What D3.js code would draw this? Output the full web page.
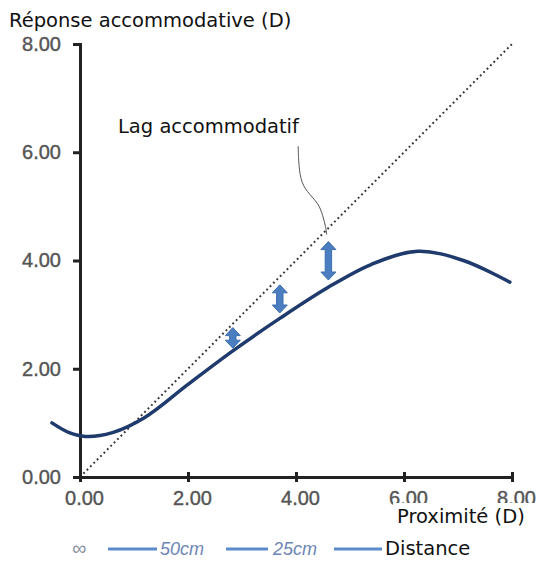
<!DOCTYPE html>
<html>
<head>
<meta charset="utf-8">
<script src="https://cdn.jsdelivr.net/npm/d3@7"></script>
<style>
  body { margin: 0; background: #fff; }
  svg { display: block; }
</style>
</head>
<body>
<div id="chart"></div>
<script>
// values
const ticks = [0, 2, 4, 6, 8];
const tickLabels = ["0.00", "2.00", "4.00", "6.00", "8.00"];

const curveX = [-0.52, -0.2, 0.1, 0.6, 1.2, 2.0, 2.83, 3.7, 4.59, 5.4, 6.26, 7.1, 7.96];
const curveY = [1.0, 0.82, 0.75, 0.82, 1.1, 1.71, 2.33, 2.93, 3.5, 3.93, 4.17, 4.0, 3.6];

const arrowX = [2.83, 3.7, 4.6];
const arrowTop = [2.76, 3.55, 4.35];
const arrowBottom = [2.38, 3.03, 3.64];

const leaderX = [4.04, 4.05, 4.1, 4.25, 4.42, 4.5, 4.55, 4.57];
const leaderY = [6.11, 5.75, 5.42, 5.22, 5.05, 4.82, 4.62, 4.48];

const legendItems = ["\u221E", "50cm", "25cm"];

const width = 547, height = 569;
const svg = d3.select('#chart').append('svg')
    .attr('width', width)
    .attr('height', height);

const x = d3.scaleLinear().domain([0, 8]).range([80, 512]);
const y = d3.scaleLinear().domain([0, 8]).range([477, 44]);

const labelFont = 'DejaVu Sans';

// title
svg.append('text')
    .attr('x', 9).attr('y', 27)
    .style('font-family', labelFont)
    .style('font-size', '19.5px')
    .attr('fill', '#111')
    .text('Réponse accommodative (D)');

// diagonal (dotted)
svg.append('line')
    .attr('x1', x(0)).attr('y1', y(0))
    .attr('x2', x(8)).attr('y2', y(8))
    .attr('stroke', '#333')
    .attr('stroke-width', 2)
    .attr('stroke-dasharray', '1.8,3');

// y axis
const yAxis = svg.append('g')
    .attr('transform', `translate(${x(0)},0)`)
    .call(d3.axisLeft(y).tickValues(ticks).tickFormat((d, i) => tickLabels[i]).tickSize(7).tickPadding(12));
// x axis
const xAxis = svg.append('g')
    .attr('transform', `translate(0,${y(0)})`)
    .call(d3.axisBottom(x).tickValues(ticks).tickFormat((d, i) => tickLabels[i]).tickSize(5).tickPadding(9));

[yAxis, xAxis].forEach(g => {
  g.select('.domain').attr('stroke', '#222').attr('stroke-width', 3);
  g.selectAll('.tick line').attr('stroke', '#222').attr('stroke-width', 3);
  g.selectAll('.tick text')
    .style('font-family', 'Liberation Sans')
    .style('font-size', '20px')
    .attr('fill', '#555')
    .attr('stroke', '#555')
    .attr('stroke-width', 0.4);
});
xAxis.selectAll('.tick line').attr('y1', -5);
xAxis.selectAll('.tick text').attr('dx', 4);

// curve
const pts = curveX.map((d, i) => [d, curveY[i]]);
svg.append('path')
    .datum(pts)
    .attr('fill', 'none')
    .attr('stroke', '#1f3a6c')
    .attr('stroke-width', 3.5)
    .attr('stroke-linecap', 'round')
    .attr('d', d3.line().x(d => x(d[0])).y(d => y(d[1])).curve(d3.curveCatmullRom.alpha(0.5)));

// double arrows
arrowX.forEach((ax, i) => {
  const cx = x(ax), t = y(arrowTop[i]), b = y(arrowBottom[i]);
  const hw = 7.5, sw = 3.2, hl = 8;
  const p = [
    [cx, t], [cx + hw, t + hl], [cx + sw, t + hl],
    [cx + sw, b - hl], [cx + hw, b - hl], [cx, b],
    [cx - hw, b - hl], [cx - sw, b - hl], [cx - sw, t + hl], [cx - hw, t + hl]
  ];
  svg.append('path')
    .attr('d', 'M' + p.map(q => q.join(',')).join('L') + 'Z')
    .attr('fill', '#4a7ec0')
    .attr('stroke', '#3c6eae')
    .attr('stroke-width', 1);
});

// annotation
svg.append('path')
    .datum(leaderX.map((d, i) => [d, leaderY[i]]))
    .attr('fill', 'none')
    .attr('stroke', '#555')
    .attr('stroke-width', 1)
    .attr('d', d3.line().x(d => x(d[0])).y(d => y(d[1])).curve(d3.curveBasis));

svg.append('text')
    .attr('x', 118).attr('y', 133)
    .style('font-family', labelFont)
    .style('font-size', '19.5px')
    .attr('fill', '#111')
    .text('Lag accommodatif');

// legend row along the bottom
const legend = svg.append('g').attr('transform', 'translate(0,549)');
const legendX = [72, 160, 273];
const lineX = [[108, 157], [226, 268], [334, 390]];
lineX.forEach(l => {
  legend.append('line')
    .attr('x1', l[0]).attr('x2', l[1])
    .attr('y1', 0).attr('y2', 0)
    .attr('stroke', '#5b8bcb').attr('stroke-width', 3);
});
legendItems.forEach((t, i) => {
  legend.append('text')
    .attr('x', legendX[i]).attr('y', 6)
    .style('font-family', 'Liberation Sans')
    .style('font-style', 'italic')
    .style('font-size', i === 0 ? '20px' : '18px')
    .attr('fill', i === 0 ? '#8a8fa0' : '#6d86b6')
    .text(t);
});

// white boxes with the axis captions
svg.append('rect').attr('x', 393).attr('y', 503).attr('width', 154).attr('height', 27).attr('fill', '#fff');
svg.append('text')
    .attr('x', 397).attr('y', 523)
    .style('font-family', labelFont)
    .style('font-size', '19.5px')
    .attr('fill', '#111')
    .text('Proximité (D)');

svg.append('rect').attr('x', 382).attr('y', 533).attr('width', 95).attr('height', 30).attr('fill', '#fff');
svg.append('text')
    .attr('x', 385).attr('y', 555)
    .style('font-family', labelFont)
    .style('font-size', '19.5px')
    .attr('fill', '#111')
    .text('Distance');
</script>
</body>
</html>
